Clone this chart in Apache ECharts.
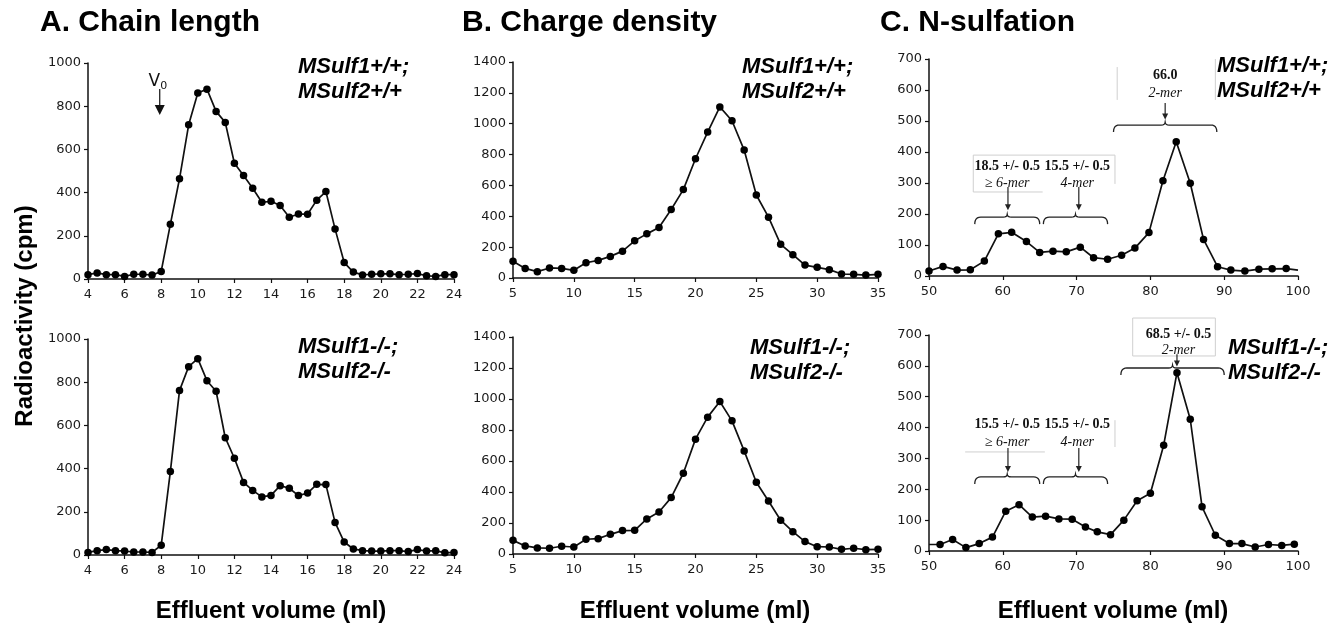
<!DOCTYPE html>
<html><head><meta charset="utf-8">
<script src="https://cdn.jsdelivr.net/npm/echarts@6/dist/echarts.min.js"></script>
<style>html,body{margin:0;padding:0;background:#fff}#c{width:1336px;height:629px}</style>
</head><body><div id="c"></div>
<script>
// ---- Data ----
const chainX = [4,4.5,5,5.5,6,6.5,7,7.5,8,8.5,9,9.5,10,10.5,11,11.5,12,12.5,13,13.5,14,14.5,15,15.5,16,16.5,17,17.5,18,18.5,19,19.5,20,20.5,21,21.5,22,22.5,23,23.5,24];
const chainWT = [20,28,20,20,12,22,22,18,35,253,464,714,861,879,776,725,536,479,420,355,360,340,286,301,300,365,405,232,76,32,19,22,24,24,20,22,25,15,12,20,20];
const chainKO = [12,20,25,20,18,14,14,12,45,386,761,872,909,807,758,543,448,336,299,269,276,321,309,275,287,327,326,151,60,28,20,18,18,20,20,16,25,18,20,10,12];
const chargeX = [4.7,5,6,7,8,9,10,11,12,13,14,15,16,17,18,19,20,21,22,23,24,25,26,27,28,29,30,31,32,33,34,35];
const chargeWT = [150,108,62,41,65,62,50,99,114,140,174,241,286,327,444,573,773,946,1109,1019,829,538,394,218,151,84,69,54,26,24,19,24];
const chargeKOX = [5,6,7,8,9,10,11,12,13,14,15,16,17,18,19,20,21,22,23,24,25,26,27,28,29,30,31,32,33,34,35];
const chargeKO = [88,52,39,37,50,45,95,99,127,151,153,226,271,364,521,741,883,984,859,665,463,342,218,144,80,47,45,30,37,28,30];
const nsulfWTX = [50,51.9,53.8,55.6,57.5,59.4,61.2,63.2,65.0,66.8,68.6,70.5,72.3,74.2,76.1,77.9,79.8,81.7,83.5,85.4,87.2,89.1,90.9,92.8,94.7,96.5,98.4,100];
const nsulfWT = [16,31,19,20,48,136,141,111,76,80,78,93,59,54,67,90,140,307,433,299,118,30,19,16,22,23,24,19];
const nsulfKOX = [50,51.5,53.2,55.0,56.8,58.6,60.4,62.2,64.0,65.8,67.6,69.4,71.2,72.8,74.6,76.4,78.2,80.0,81.8,83.6,85.4,87.0,88.8,90.7,92.4,94.2,96.0,97.8,99.5];
const nsulfKO = [21,21,37,11,24,45,129,150,110,113,104,103,78,62,53,100,163,187,343,578,427,143,51,24,24,13,21,18,22];

const panelTitles = ['A. Chain length','B. Charge density','C. N-sulfation'];
const genoWT = ['MSulf1+/+;','MSulf2+/+'];
const genoKO = ['MSulf1-/-;','MSulf2-/-'];
const xAxisName = 'Effluent volume (ml)';
const yAxisName = 'Radioactivity (cpm)';

// annotations (data units), panel C
const cTopTexts = [['18.5 +/- 0.5',60.6,352,'b'],['≥ 6-mer',60.6,300,'i'],['15.5 +/- 0.5',70.1,352,'b'],['4-mer',70.1,300,'i'],['66.0',82.0,648,'b'],['2-mer',82.0,590,'i']];
const cTopBraces = [[56.2,65.0,190],[65.5,74.2,190],[75.0,89.0,487]];
const cTopArrows = [[60.7,287,212],[70.3,287,212],[82.0,558,505]];
const cTopBoxes = [[[56.0,271],[56.0,390],[75.2,390],[75.2,297]],[[56.0,271],[65.4,271]],[[75.5,674],[75.5,568]],[[88.8,700],[88.8,568]]];
const cKoTexts = [['15.5 +/- 0.5',60.6,410,'b'],['≥ 6-mer',60.6,353,'i'],['15.5 +/- 0.5',70.1,410,'b'],['4-mer',70.1,353,'i'],['68.5 +/- 0.5',83.8,702,'b'],['2-mer',83.8,650,'i']];
const cKoBraces = [[56.2,65.0,240],[65.5,74.2,240],[76.0,90.0,593]];
const cKoArrows = [[60.7,334,256],[70.3,334,256],[83.6,638,598]];
const cKoBoxes = [[[54.9,321],[65.7,321]],[[75.2,424],[75.2,337]],[[77.6,755],[88.8,755],[88.8,632],[77.6,632],[77.6,755]]];
const v0 = {x:7.92, textY:912, shaftTop:880, headTop:806, tip:759};

const chart = echarts.init(document.getElementById('c'));
const grids = [
  {left:88, top:63, width:366, height:216},
  {left:88, top:339, width:366, height:216},
  {left:513, top:62, width:365, height:216},
  {left:513, top:337, width:365, height:217},
  {left:929, top:59, width:369, height:217},
  {left:929, top:335, width:369, height:216}
];
const xr = [[4,24,2],[4,24,2],[5,35,5],[5,35,5],[50,100,10],[50,100,10]];
const yr = [[0,1000,200],[0,1000,200],[0,1400,200],[0,1400,200],[0,700,100],[0,700,100]];
const axisLine = {lineStyle:{color:'#111',width:1.5}};
const axisTick = {show:true,inside:false,length:4,lineStyle:{color:'#111',width:1.2}};
const lbl = {color:'#1a1a1a',fontFamily:'DejaVu Sans',fontSize:13,formatter:v=>String(v)};

function pairs(xs, ys, noSym){
  return xs.map((x,i)=>{
    const o={value:[x,ys[i]]};
    if(noSym && noSym.indexOf(i)>=0){o.symbolSize=0;}
    return o;
  });
}
const seriesData = [
  pairs(chainX, chainWT), pairs(chainX, chainKO),
  pairs(chargeX, chargeWT, [0]), pairs(chargeKOX, chargeKO),
  pairs(nsulfWTX, nsulfWT, [nsulfWTX.length-1]), pairs(nsulfKOX, nsulfKO, [0])
];

const option = {
  animation:false,
  grid: grids,
  xAxis: grids.map((g,i)=>({type:'value',gridIndex:i,min:xr[i][0],max:xr[i][1],interval:xr[i][2],
     axisLine, axisTick, splitLine:{show:false}, axisLabel:Object.assign({margin:9},lbl)})),
  yAxis: grids.map((g,i)=>({type:'value',gridIndex:i,min:yr[i][0],max:yr[i][1],interval:yr[i][2],
     axisLine:Object.assign({show:true},axisLine), axisTick, splitLine:{show:false}, axisLabel:Object.assign({margin:7},lbl)})),
  series: seriesData.map((d,i)=>({type:'line',xAxisIndex:i,yAxisIndex:i,data:d,symbol:'circle',symbolSize:7.5,
     clip:true, itemStyle:{color:'#000'}, lineStyle:{color:'#111',width:1.7}}))
};
chart.setOption(option);

function P(g,x,y){return chart.convertToPixel({gridIndex:g},[x,y]);}
const G = [];
// panel titles
const titleX = [40,462,880];
panelTitles.forEach((t,i)=>G.push({type:'text',x:titleX[i],y:23,style:{text:t,font:'bold 30px "Liberation Sans", Arial',fill:'#000',textAlign:'left',textVerticalAlign:'middle'}}));
// axis names
const xnameC = [271,695,1113];
xnameC.forEach(cx=>G.push({type:'text',x:cx,y:611,style:{text:xAxisName,font:'bold 24px "Liberation Sans", Arial',fill:'#000',textAlign:'center',textVerticalAlign:'middle'}}));
G.push({type:'text',x:25,y:316,rotation:Math.PI/2,style:{text:yAxisName,font:'bold 24px "Liberation Sans", Arial',fill:'#000',textAlign:'center',textVerticalAlign:'middle'}});
// genotype labels
const genoPos = [[298,67,genoWT],[298,347,genoKO],[742,67,genoWT],[750,348,genoKO],[1217,66,genoWT],[1228,348,genoKO]];
genoPos.forEach(p=>{
  p[2].forEach((t,k)=>G.push({type:'text',x:p[0],y:p[1]+k*25,style:{text:t,font:'italic bold 22px "Liberation Sans", Arial',fill:'#000',textAlign:'left',textVerticalAlign:'middle'}}));
});
// annotations
function addTexts(g, arr){
  arr.forEach(a=>{const p=P(g,a[1],a[2]);
    G.push({type:'text',x:p[0],y:p[1],style:{text:a[0],font:(a[3]==='b'?'bold 14px':'italic 14px')+' "Liberation Serif", "Times New Roman", serif',fill:'#111',textAlign:'center',textVerticalAlign:'middle'}});});
}
function quad(p0,p1,p2,n){const out=[];for(let k=1;k<=n;k++){const t=k/n,u=1-t;out.push([u*u*p0[0]+2*u*t*p1[0]+t*t*p2[0],u*u*p0[1]+2*u*t*p1[1]+t*t*p2[1]]);}return out;}
function addBraces(g, arr){
  arr.forEach(b=>{const a=P(g,b[0],b[2]), c=P(g,b[1],b[2]);
    const x1=a[0],x2=c[0],y=a[1],xm=(x1+x2)/2,h=7,r=6;
    let pts=[[x1,y+h]];
    pts=pts.concat(quad([x1,y+h],[x1,y],[x1+r,y],6));
    pts.push([xm-4,y]);
    pts=pts.concat(quad([xm-4,y],[xm,y],[xm,y-3],4));
    pts=pts.concat(quad([xm,y-3],[xm,y],[xm+4,y],4));
    pts.push([x2-r,y]);
    pts=pts.concat(quad([x2-r,y],[x2,y],[x2,y+h],6));
    G.push({type:'polyline',shape:{points:pts},style:{fill:null,stroke:'#222',lineWidth:1.3}});});
}
function addArrows(g, arr){
  arr.forEach(b=>{const a=P(g,b[0],b[1]), c=P(g,b[0],b[2]);
    G.push({type:'line',shape:{x1:a[0],y1:a[1],x2:c[0],y2:c[1]-5},style:{stroke:'#222',lineWidth:1.2}});
    G.push({type:'polygon',shape:{points:[[c[0]-3,c[1]-6],[c[0]+3,c[1]-6],[c[0],c[1]]]},style:{fill:'#222'}});});
}
function addBoxes(g, arr){
  arr.forEach(pl=>{G.push({type:'polyline',shape:{points:pl.map(q=>P(g,q[0],q[1]))},style:{stroke:'#cfcfcf',lineWidth:1,fill:null}});});
}
addBoxes(4,cTopBoxes); addTexts(4,cTopTexts); addBraces(4,cTopBraces); addArrows(4,cTopArrows);
addBoxes(5,cKoBoxes); addTexts(5,cKoTexts); addBraces(5,cKoBraces); addArrows(5,cKoArrows);
// V0 marker
(function(){
  const t=P(0,v0.x-0.1,v0.textY), s1=P(0,v0.x,v0.shaftTop), s2=P(0,v0.x,v0.headTop), tp=P(0,v0.x,v0.tip);
  G.push({type:'text',x:t[0],y:t[1],style:{rich:{a:{fontSize:17,fontFamily:'DejaVu Sans',fill:'#111'},b:{fontSize:11,fontFamily:'DejaVu Sans',fill:'#111',padding:[8,0,0,0]}},text:'{a|V}{b|0}',textAlign:'center',textVerticalAlign:'middle'}});
  G.push({type:'line',shape:{x1:s1[0],y1:s1[1],x2:s2[0],y2:s2[1]},style:{stroke:'#111',lineWidth:1.2}});
  G.push({type:'polygon',shape:{points:[[s2[0]-5,s2[1]],[s2[0]+5,s2[1]],[tp[0],tp[1]]]},style:{fill:'#111'}});
})();
chart.setOption({graphic:{elements:G}});
</script></body></html>
